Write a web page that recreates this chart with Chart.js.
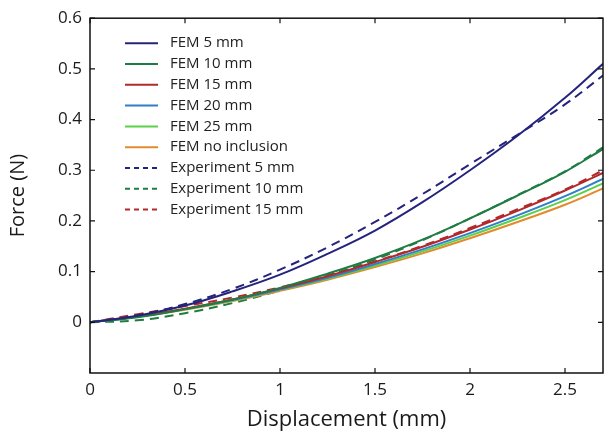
<!DOCTYPE html>
<html>
<head>
<meta charset="utf-8">
<script src="https://cdn.jsdelivr.net/npm/chart.js@4/dist/chart.umd.min.js"></script>
<style>
  html, body { margin: 0; padding: 0; background: #fff; }
  #wrap { width: 605px; height: 441px; }
</style>
</head>
<body>
<div id="wrap"><canvas id="forceChart"></canvas></div>
<script>
// displacement (mm)
const displacement = [0, 0.25, 0.5, 0.75, 1, 1.25, 1.5, 1.75, 2, 2.25, 2.5, 2.7];

// force (N), simulation
const fem5 = [0, 0.013, 0.033, 0.061, 0.094, 0.135, 0.181, 0.237, 0.300, 0.368, 0.443, 0.510];
const fem10 = [0, 0.010, 0.026, 0.045, 0.068, 0.096, 0.127, 0.163, 0.205, 0.250, 0.297, 0.342];
const fem15 = [0, 0.012, 0.027, 0.045, 0.067, 0.091, 0.119, 0.149, 0.183, 0.220, 0.260, 0.295];
const fem20 = [0, 0.011, 0.026, 0.044, 0.065, 0.088, 0.115, 0.144, 0.176, 0.211, 0.249, 0.283];
const fem25 = [0, 0.011, 0.026, 0.043, 0.064, 0.086, 0.112, 0.140, 0.171, 0.205, 0.241, 0.274];
const femNone = [0, 0.011, 0.025, 0.042, 0.062, 0.084, 0.109, 0.136, 0.166, 0.198, 0.232, 0.264];

// force (N), measured
const exp5 = [0, 0.014, 0.036, 0.066, 0.104, 0.148, 0.198, 0.253, 0.312, 0.370, 0.430, 0.487];
const exp10 = [0, 0.004, 0.018, 0.038, 0.063, 0.092, 0.124, 0.162, 0.205, 0.251, 0.298, 0.345];
const exp15 = [0, 0.016, 0.032, 0.049, 0.069, 0.093, 0.120, 0.151, 0.186, 0.223, 0.262, 0.300];

const xTicks = [0, 0.5, 1, 1.5, 2, 2.5];
const yTicks = [0, 0.1, 0.2, 0.3, 0.4, 0.5, 0.6];

const FONT = "'Open Sans', 'DejaVu Sans', sans-serif";

function pts(ys) {
  return displacement.map((x, i) => ({ x: x, y: ys[i] }));
}

function serie(label, ys, color, dashed) {
  return {
    label: label,
    data: pts(ys),
    borderColor: color,
    backgroundColor: color,
    borderWidth: 2,
    borderDash: dashed ? [9, 6] : [],
    pointRadius: 0,
    tension: 0.4,
    fill: false
  };
}

const datasets = [
  serie('FEM 5 mm', fem5, '#25247c', false),
  serie('FEM 10 mm', fem10, '#1f7d44', false),
  serie('FEM 15 mm', fem15, '#b3282a', false),
  serie('FEM 20 mm', fem20, '#2f7fcc', false),
  serie('FEM 25 mm', fem25, '#5bd14b', false),
  serie('FEM no inclusion', femNone, '#e38a2f', false),
  serie('Experiment 5 mm', exp5, '#25247c', true),
  serie('Experiment 10 mm', exp10, '#1f7d44', true),
  serie('Experiment 15 mm', exp15, '#b3282a', true)
];

// box around the plot with inward tick marks
const frame = {
  id: 'frame',
  afterDraw(chart) {
    const { ctx, chartArea: a, scales } = chart;
    ctx.save();
    ctx.strokeStyle = '#111';
    ctx.lineWidth = 1.5;
    ctx.strokeRect(a.left, a.top, a.right - a.left, a.bottom - a.top);
    ctx.lineWidth = 1.2;
    ctx.beginPath();
    xTicks.forEach(v => {
      const px = scales.x.getPixelForValue(v);
      ctx.moveTo(px, a.bottom); ctx.lineTo(px, a.bottom - 5);
      ctx.moveTo(px, a.top); ctx.lineTo(px, a.top + 5);
    });
    yTicks.forEach(v => {
      const py = scales.y.getPixelForValue(v);
      ctx.moveTo(a.left, py); ctx.lineTo(a.left + 5, py);
      ctx.moveTo(a.right, py); ctx.lineTo(a.right - 5, py);
    });
    ctx.stroke();
    ctx.restore();
  }
};

// legend inside the upper left corner
const insideLegend = {
  id: 'insideLegend',
  afterDraw(chart) {
    const { ctx, chartArea: a } = chart;
    const x0 = a.left + 35, x1 = a.left + 68, tx = a.left + 80;
    let y = a.top + 25;
    ctx.save();
    ctx.font = '15px ' + FONT;
    ctx.textBaseline = 'middle';
    chart.data.datasets.forEach(ds => {
      ctx.strokeStyle = ds.borderColor;
      ctx.lineWidth = 2;
      ctx.setLineDash(ds.borderDash.length ? [5, 4] : []);
      ctx.beginPath();
      ctx.moveTo(x0, y); ctx.lineTo(x1, y);
      ctx.stroke();
      ctx.setLineDash([]);
      ctx.fillStyle = '#222';
      ctx.fillText(ds.label, tx, y);
      y += 20.8;
    });
    ctx.restore();
  }
};

new Chart(document.getElementById('forceChart'), {
  type: 'line',
  data: { datasets: datasets },
  options: {
    responsive: true,
    maintainAspectRatio: false,
    animation: false,
    layout: { padding: { left: 0, right: 2, top: 17, bottom: 0 } },
    plugins: {
      legend: { display: false },
      tooltip: { enabled: false }
    },
    scales: {
      x: {
        type: 'linear',
        min: 0,
        max: 2.7,
        grid: { display: false, drawTicks: false },
        border: { display: false },
        ticks: {
          stepSize: 0.5,
          includeBounds: false,
          padding: 7,
          color: '#1a1a1a',
          font: { family: FONT, size: 17 },
          callback: v => String(Math.round(v * 10) / 10)
        },
        title: {
          display: true,
          text: 'Displacement (mm)',
          color: '#1a1a1a',
          font: { family: FONT, size: 22 },
          padding: { top: 0, bottom: 8 }
        },
        afterFit: s => { s.height = 68; }
      },
      y: {
        min: -0.1,
        max: 0.6,
        grid: { display: false, drawTicks: false },
        border: { display: false },
        ticks: {
          stepSize: 0.1,
          padding: 8,
          color: '#1a1a1a',
          font: { family: FONT, size: 17 },
          callback: v => {
            const r = Math.round(v * 10) / 10;
            return r < 0 ? '' : String(r);
          }
        },
        title: {
          display: true,
          text: 'Force (N)',
          color: '#1a1a1a',
          font: { family: FONT, size: 20 },
          padding: { top: 6, bottom: 0 }
        },
        afterFit: s => { s.width = 90; }
      }
    }
  },
  plugins: [frame, insideLegend]
});
</script>
</body>
</html>
